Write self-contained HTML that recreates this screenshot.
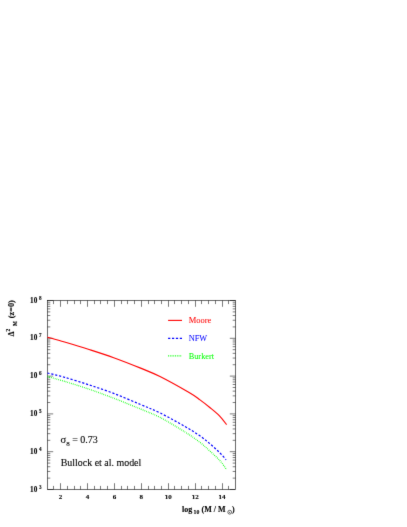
<!DOCTYPE html>
<html><head><meta charset="utf-8"><title>plot</title>
<style>
html,body{margin:0;padding:0;background:#fff;}
body{width:407px;height:527px;position:relative;overflow:hidden;font-family:"Liberation Serif",serif;}
svg text{font-family:"Liberation Serif",serif;}
</style></head><body>
<svg width="407" height="527" viewBox="0 0 407 527" style="position:absolute;left:0;top:0"><defs><filter id="bl" x="0" y="0" width="407" height="527" filterUnits="userSpaceOnUse"><feConvolveMatrix order="3" kernelMatrix="0.01 0.065 0.01 0.065 0.7 0.065 0.01 0.065 0.01" divisor="1" edgeMode="none" preserveAlpha="false"/></filter></defs>
<g filter="url(#bl)">
<rect x="47.50" y="300.50" width="188.00" height="189.00" fill="none" stroke="#000" stroke-width="0.58"/>
<path d="M53.50 489.50 V485.90 M53.50 300.50 V304.10 M60.50 489.50 V483.20 M60.50 300.50 V306.80 M67.50 489.50 V485.90 M67.50 300.50 V304.10 M74.50 489.50 V485.90 M74.50 300.50 V304.10 M80.50 489.50 V485.90 M80.50 300.50 V304.10 M87.50 489.50 V483.20 M87.50 300.50 V306.80 M94.50 489.50 V485.90 M94.50 300.50 V304.10 M100.50 489.50 V485.90 M100.50 300.50 V304.10 M107.50 489.50 V485.90 M107.50 300.50 V304.10 M114.50 489.50 V483.20 M114.50 300.50 V306.80 M121.50 489.50 V485.90 M121.50 300.50 V304.10 M127.50 489.50 V485.90 M127.50 300.50 V304.10 M134.50 489.50 V485.90 M134.50 300.50 V304.10 M141.50 489.50 V483.20 M141.50 300.50 V306.80 M148.50 489.50 V485.90 M148.50 300.50 V304.10 M154.50 489.50 V485.90 M154.50 300.50 V304.10 M161.50 489.50 V485.90 M161.50 300.50 V304.10 M168.50 489.50 V483.20 M168.50 300.50 V306.80 M174.50 489.50 V485.90 M174.50 300.50 V304.10 M181.50 489.50 V485.90 M181.50 300.50 V304.10 M188.50 489.50 V485.90 M188.50 300.50 V304.10 M195.50 489.50 V483.20 M195.50 300.50 V306.80 M201.50 489.50 V485.90 M201.50 300.50 V304.10 M208.50 489.50 V485.90 M208.50 300.50 V304.10 M215.50 489.50 V485.90 M215.50 300.50 V304.10 M222.50 489.50 V483.20 M222.50 300.50 V306.80 M228.50 489.50 V485.90 M228.50 300.50 V304.10 M47.50 489.50 H53.20 M235.50 489.50 H229.80 M47.50 478.12 H50.30 M235.50 478.12 H232.70 M47.50 471.46 H50.30 M235.50 471.46 H232.70 M47.50 466.74 H50.30 M235.50 466.74 H232.70 M47.50 463.08 H50.30 M235.50 463.08 H232.70 M47.50 460.09 H50.30 M235.50 460.09 H232.70 M47.50 457.56 H50.30 M235.50 457.56 H232.70 M47.50 455.36 H50.30 M235.50 455.36 H232.70 M47.50 453.43 H50.30 M235.50 453.43 H232.70 M47.50 451.70 H53.20 M235.50 451.70 H229.80 M47.50 440.32 H50.30 M235.50 440.32 H232.70 M47.50 433.66 H50.30 M235.50 433.66 H232.70 M47.50 428.94 H50.30 M235.50 428.94 H232.70 M47.50 425.28 H50.30 M235.50 425.28 H232.70 M47.50 422.29 H50.30 M235.50 422.29 H232.70 M47.50 419.76 H50.30 M235.50 419.76 H232.70 M47.50 417.56 H50.30 M235.50 417.56 H232.70 M47.50 415.63 H50.30 M235.50 415.63 H232.70 M47.50 413.90 H53.20 M235.50 413.90 H229.80 M47.50 402.52 H50.30 M235.50 402.52 H232.70 M47.50 395.86 H50.30 M235.50 395.86 H232.70 M47.50 391.14 H50.30 M235.50 391.14 H232.70 M47.50 387.48 H50.30 M235.50 387.48 H232.70 M47.50 384.49 H50.30 M235.50 384.49 H232.70 M47.50 381.96 H50.30 M235.50 381.96 H232.70 M47.50 379.76 H50.30 M235.50 379.76 H232.70 M47.50 377.83 H50.30 M235.50 377.83 H232.70 M47.50 376.10 H53.20 M235.50 376.10 H229.80 M47.50 364.72 H50.30 M235.50 364.72 H232.70 M47.50 358.06 H50.30 M235.50 358.06 H232.70 M47.50 353.34 H50.30 M235.50 353.34 H232.70 M47.50 349.68 H50.30 M235.50 349.68 H232.70 M47.50 346.69 H50.30 M235.50 346.69 H232.70 M47.50 344.16 H50.30 M235.50 344.16 H232.70 M47.50 341.96 H50.30 M235.50 341.96 H232.70 M47.50 340.03 H50.30 M235.50 340.03 H232.70 M47.50 338.30 H53.20 M235.50 338.30 H229.80 M47.50 326.92 H50.30 M235.50 326.92 H232.70 M47.50 320.26 H50.30 M235.50 320.26 H232.70 M47.50 315.54 H50.30 M235.50 315.54 H232.70 M47.50 311.88 H50.30 M235.50 311.88 H232.70 M47.50 308.89 H50.30 M235.50 308.89 H232.70 M47.50 306.36 H50.30 M235.50 306.36 H232.70 M47.50 304.16 H50.30 M235.50 304.16 H232.70 M47.50 302.23 H50.30 M235.50 302.23 H232.70 M47.50 300.50 H53.20 M235.50 300.50 H229.80" stroke="#000" stroke-width="0.52" fill="none"/>
<path d="M47.50 337.20 C50.35 338.00 57.67 339.95 64.60 342.00 C71.53 344.05 80.92 346.88 89.10 349.50 C97.28 352.12 105.22 354.63 113.70 357.70 C122.18 360.77 132.28 364.75 140.00 367.90 C147.72 371.05 151.82 372.48 160.00 376.60 C168.18 380.72 182.43 388.72 189.10 392.60 C195.77 396.48 196.55 397.42 200.00 399.90 C203.45 402.38 206.52 404.80 209.80 407.50 C213.08 410.20 216.90 413.23 219.70 416.10 C222.50 418.97 225.45 423.27 226.60 424.70" stroke="#ff0000" stroke-width="1.15" fill="none"/>
<path d="M47.50 373.00 C50.35 373.72 57.67 375.32 64.60 377.30 C71.53 379.28 80.92 382.22 89.10 384.90 C97.28 387.58 105.22 390.17 113.70 393.40 C122.18 396.63 132.28 401.05 140.00 404.30 C147.72 407.55 152.50 409.20 160.00 412.90 C167.50 416.60 178.55 422.82 185.00 426.50 C191.45 430.18 194.57 432.15 198.70 435.00 C202.83 437.85 206.30 440.65 209.80 443.60 C213.30 446.55 216.98 450.00 219.70 452.70 C222.42 455.40 225.03 458.62 226.10 459.80" stroke="#0000ff" stroke-width="1.2" stroke-dasharray="2.2 1.8" fill="none"/>
<path d="M47.50 376.50 C50.35 377.32 57.67 379.28 64.60 381.40 C71.53 383.52 80.92 386.40 89.10 389.20 C97.28 392.00 105.22 394.93 113.70 398.20 C122.18 401.47 132.28 405.60 140.00 408.80 C147.72 412.00 152.50 413.53 160.00 417.40 C167.50 421.27 178.33 427.83 185.00 432.00 C191.67 436.17 195.87 439.23 200.00 442.40 C204.13 445.57 206.52 448.00 209.80 451.00 C213.08 454.00 216.88 457.28 219.70 460.40 C222.52 463.52 225.53 468.15 226.70 469.70" stroke="#00ff00" stroke-width="1.25" stroke-dasharray="0.75 1.15" fill="none"/>
<path d="M168.1 320.4 H182" stroke="#ff0000" stroke-width="1.1"/>
<path d="M168.1 338.4 H182" stroke="#0000ff" stroke-width="1.1" stroke-dasharray="2.2 1.7"/>
<path d="M168.1 355.9 H181.2" stroke="#00ff00" stroke-width="1.1" stroke-dasharray="0.85 0.9"/>
<text x="188.70" y="323.10" font-size="8.50" fill="#ff0000"  text-anchor="start" stroke="#ff0000" stroke-width="0.05">Moore</text>
<text x="188.70" y="341.10" font-size="8.30" fill="#0000ff"  text-anchor="start" stroke="#0000ff" stroke-width="0.05">NFW</text>
<text x="188.70" y="358.70" font-size="8.30" fill="#00ff00"  text-anchor="start" stroke="#00ff00" stroke-width="0.05">Burkert</text>
<text x="60.50" y="443.10" font-size="10.00" fill="#000"  text-anchor="start" stroke="#000" stroke-width="0.12"><tspan font-size="10.6">σ</tspan><tspan font-size="7" dy="2.4">8</tspan><tspan dy="-2.4"> = 0.73</tspan></text>
<text x="60.70" y="465.50" font-size="9.95" fill="#000"  text-anchor="start" stroke="#000" stroke-width="0.12">Bullock et al. model</text>
<text x="37.30" y="491.60" font-size="7.20" fill="#000" font-weight="bold" stroke="#000" stroke-width="0.12" text-anchor="end" >10</text>
<text x="38.90" y="488.50" font-size="5.10" fill="#000" font-weight="bold" stroke="#000" stroke-width="0.12" text-anchor="start" >3</text>
<text x="37.30" y="453.80" font-size="7.20" fill="#000" font-weight="bold" stroke="#000" stroke-width="0.12" text-anchor="end" >10</text>
<text x="38.90" y="450.70" font-size="5.10" fill="#000" font-weight="bold" stroke="#000" stroke-width="0.12" text-anchor="start" >4</text>
<text x="37.30" y="416.00" font-size="7.20" fill="#000" font-weight="bold" stroke="#000" stroke-width="0.12" text-anchor="end" >10</text>
<text x="38.90" y="412.90" font-size="5.10" fill="#000" font-weight="bold" stroke="#000" stroke-width="0.12" text-anchor="start" >5</text>
<text x="37.30" y="378.20" font-size="7.20" fill="#000" font-weight="bold" stroke="#000" stroke-width="0.12" text-anchor="end" >10</text>
<text x="38.90" y="375.10" font-size="5.10" fill="#000" font-weight="bold" stroke="#000" stroke-width="0.12" text-anchor="start" >6</text>
<text x="37.30" y="340.40" font-size="7.20" fill="#000" font-weight="bold" stroke="#000" stroke-width="0.12" text-anchor="end" >10</text>
<text x="38.90" y="337.30" font-size="5.10" fill="#000" font-weight="bold" stroke="#000" stroke-width="0.12" text-anchor="start" >7</text>
<text x="37.30" y="302.60" font-size="7.20" fill="#000" font-weight="bold" stroke="#000" stroke-width="0.12" text-anchor="end" >10</text>
<text x="38.90" y="299.50" font-size="5.10" fill="#000" font-weight="bold" stroke="#000" stroke-width="0.12" text-anchor="start" >8</text>
<text x="60.55" y="498.70" font-size="7.00" fill="#000" font-weight="bold" stroke="#000" stroke-width="0.12" text-anchor="middle" >2</text>
<text x="87.47" y="498.70" font-size="7.00" fill="#000" font-weight="bold" stroke="#000" stroke-width="0.12" text-anchor="middle" >4</text>
<text x="114.39" y="498.70" font-size="7.00" fill="#000" font-weight="bold" stroke="#000" stroke-width="0.12" text-anchor="middle" >6</text>
<text x="141.31" y="498.70" font-size="7.00" fill="#000" font-weight="bold" stroke="#000" stroke-width="0.12" text-anchor="middle" >8</text>
<text x="168.23" y="498.70" font-size="7.00" fill="#000" font-weight="bold" stroke="#000" stroke-width="0.12" text-anchor="middle" >10</text>
<text x="195.15" y="498.70" font-size="7.00" fill="#000" font-weight="bold" stroke="#000" stroke-width="0.12" text-anchor="middle" >12</text>
<text x="222.07" y="498.70" font-size="7.00" fill="#000" font-weight="bold" stroke="#000" stroke-width="0.12" text-anchor="middle" >14</text>
<text x="182.00" y="511.80" font-size="8.00" fill="#000" font-weight="bold" stroke="#000" stroke-width="0.12" text-anchor="start" >log</text>
<text x="193.60" y="514.20" font-size="5.80" fill="#000" font-weight="bold" stroke="#000" stroke-width="0.12" text-anchor="start" >10</text>
<text x="201.50" y="511.80" font-size="8.00" fill="#000" font-weight="bold" stroke="#000" stroke-width="0.12" text-anchor="start" >(M / M</text>
<text x="232.10" y="511.80" font-size="8.00" fill="#000" font-weight="bold" stroke="#000" stroke-width="0.12" text-anchor="start" >)</text>
<circle cx="229.7" cy="512.2" r="1.9" fill="none" stroke="#000" stroke-width="0.6"/><circle cx="229.7" cy="512.2" r="0.5" fill="#000"/>
<g transform="translate(13.8,336.3) rotate(-90)" font-weight="bold" stroke="#000" stroke-width="0.12"><text x="0" y="0" font-size="7.5">Δ</text><text x="4.9" y="-3.9" font-size="5.6">2</text><text x="10.4" y="3.4" font-size="5.2">M</text><text x="18.1" y="0" font-size="8.3">(z=0)</text></g>
</g></svg>
</body></html>
